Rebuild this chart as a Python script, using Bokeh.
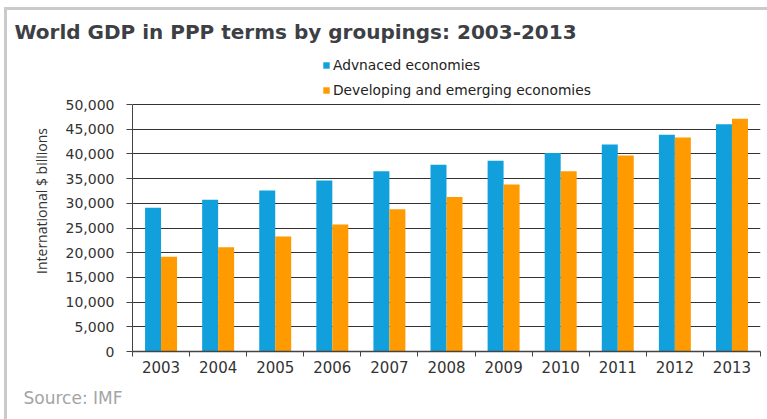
import numpy as np
from bokeh.plotting import figure
from bokeh.layouts import column
from bokeh.models import (ColumnDataSource, FixedTicker, NumeralTickFormatter, Legend,
                          LegendItem, Title)
from bokeh.transform import dodge
from bokeh.embed import file_html
from bokeh.resources import INLINE

years = ["2003", "2004", "2005", "2006", "2007", "2008", "2009", "2010", "2011", "2012", "2013"]
advanced = [29100, 30700, 32600, 34600, 36500, 37800, 38600, 40200, 41900, 43900, 46000]
developing = [19200, 21100, 23300, 25700, 28800, 31300, 33800, 36500, 39700, 43300, 47100]
series_names = ["Advnaced economies", "Developing and emerging economies"]
y_ticks = [0, 5000, 10000, 15000, 20000, 25000, 30000, 35000, 40000, 45000, 50000]
y_max = 50000

BLUE = "#12a0dc"
ORANGE = "#ff9a00"

# layout (pixels on the canvas)
FRAME_TOP, AXIS_TOP, AXIS_BOTTOM = 50, 104, 351
y_end = y_max * (AXIS_BOTTOM - FRAME_TOP) / (AXIS_BOTTOM - AXIS_TOP)

pos = np.arange(len(years)) + 0.5
src = ColumnDataSource(dict(x=pos, adv=advanced, dev=developing, year=years))

fig = figure(width=767, height=419, x_range=(0, len(years)), y_range=(0, y_end),
             output_backend="svg", toolbar_location=None,
             min_border_left=132, min_border_right=7, min_border_top=FRAME_TOP,
             min_border_bottom=419 - AXIS_BOTTOM)
fig.outline_line_color = None
fig.background_fill_color = "white"
fig.border_fill_alpha = 0

r1 = fig.vbar(x=dodge("x", -0.14, range=fig.x_range), top="adv", width=0.28, source=src,
              fill_color=BLUE, line_color=None)
r2 = fig.vbar(x=dodge("x", 0.14, range=fig.x_range), top="dev", width=0.28, source=src,
              fill_color=ORANGE, line_color=None)

# x axis
fig.xaxis.ticker = FixedTicker(ticks=list(pos), minor_ticks=list(range(len(years) + 1)))
fig.xaxis.major_label_overrides = {float(x): y for x, y in zip(pos, years)}
fig.xaxis.major_tick_out = 0
fig.xaxis.major_tick_in = 0
fig.xaxis.minor_tick_out = 5
fig.xaxis.minor_tick_in = 0
fig.xaxis.minor_tick_line_color = "#444444"
fig.xaxis.axis_line_color = "#444444"
fig.xaxis.axis_line_width = 1.5
fig.xaxis.major_label_text_font = "DejaVu Sans"
fig.xaxis.major_label_text_font_size = "15px"
fig.xaxis.major_label_text_color = "#333333"
fig.xaxis.major_label_standoff = 4
fig.xgrid.grid_line_color = None

# y axis
fig.yaxis.ticker = FixedTicker(ticks=y_ticks)
fig.yaxis.bounds = (0, y_max)
fig.yaxis.formatter = NumeralTickFormatter(format="0,0")
fig.yaxis.major_tick_out = 6
fig.yaxis.major_tick_in = 0
fig.yaxis.minor_tick_line_color = None
fig.yaxis.major_tick_line_color = "#444444"
fig.yaxis.axis_line_color = "#444444"
fig.yaxis.major_label_text_font = "DejaVu Sans"
fig.yaxis.major_label_text_font_size = "14px"
fig.yaxis.major_label_text_color = "#333333"
fig.yaxis.major_label_standoff = 12
fig.yaxis.axis_label = "International $ billions"
fig.yaxis.axis_label_text_font = "Open Sans"
fig.yaxis.axis_label_text_font_style = "normal"
fig.yaxis.axis_label_text_font_size = "14px"
fig.yaxis.axis_label_text_color = "#333333"
fig.yaxis.axis_label_standoff = 12
fig.ygrid.grid_line_color = "#333333"
fig.ygrid.grid_line_width = 1.2

legend = Legend(items=[LegendItem(label=series_names[0], renderers=[r1]),
                       LegendItem(label=series_names[1], renderers=[r2])],
                location=(190, 253), orientation="vertical")
legend.border_line_color = None
legend.background_fill_alpha = 0
legend.padding = 0
legend.margin = 0
legend.spacing = 9
legend.glyph_width = 8
legend.glyph_height = 8
legend.label_height = 15
legend.label_standoff = 3
legend.label_text_font = "DejaVu Sans"
legend.label_text_font_size = "13.8px"
legend.label_text_color = "#222222"
fig.add_layout(legend)

fig.title = Title(text="World GDP in PPP terms by groupings: 2003-2013", align="left",
                  offset=-118, standoff=14, text_font="DejaVu Sans",
                  text_font_style="bold", text_font_size="20px", text_color="#3d3f45")

fig.add_layout(Title(text="Source: IMF", align="left", offset=-109, standoff=20,
                     text_font="DejaVu Sans", text_font_style="normal", text_font_size="17px",
                     text_color="#a4a4a4"), "below")

p = column(fig, styles={
    "background-color": "white",
    "box-shadow": "inset 4px 7px 0 0 white, inset 7px 10px 0 0 #cacaca",
})

open("out.html", "w").write(file_html(p, INLINE))
